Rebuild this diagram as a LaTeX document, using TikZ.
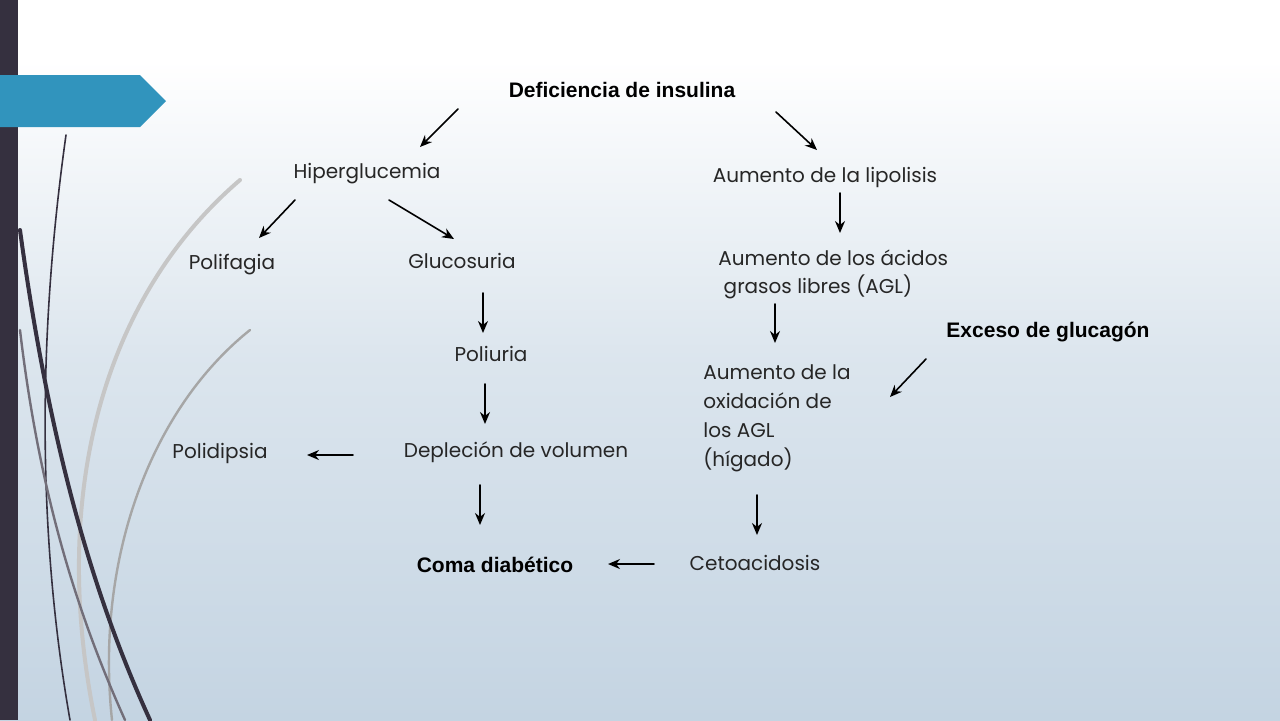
\documentclass[tikz,border=0pt]{standalone}
\usepackage{fontspec}
\setmainfont{Poppins}
\newfontfamily\boldfont{Liberation Sans}
\usetikzlibrary{arrows.meta}
\definecolor{barcol}{RGB}{53,48,63}
\definecolor{tabcol}{RGB}{49,148,189}
\definecolor{bottomcol}{RGB}{196,212,226}
\begin{document}
\begin{tikzpicture}[x=0.5pt,y=-0.5pt,line cap=round,line join=round,
  txt/.style={font=\fontsize{10}{14}\selectfont,text=black!85,inner sep=0pt},
  btxt/.style={font=\boldfont\bfseries\fontsize{10.5}{14}\selectfont,inner sep=0pt},
  arr/.style={-{Stealth[length=6pt,width=5pt]},line width=0.8pt}]
\useasboundingbox (0,0) rectangle (1280,720);
% background
\shade[top color=white,bottom color=bottomcol,middle color=white!40!bottomcol] (0,0) rectangle (1280,720);
\fill[white] (0,0) rectangle (1280,60);
\shade[top color=white,bottom color=white!40!bottomcol] (0,60) rectangle (1280,360);
\shade[top color=white!40!bottomcol,bottom color=bottomcol] (0,360) rectangle (1280,720);
\fill[barcol] (0,0) rectangle (18,720);
\fill[tabcol] (0,75) -- (140,75) -- (166,101) -- (140,127) -- (0,127) -- cycle;
% curves
\draw[gray!45,line width=2pt] (240,180) .. controls (100,300) and (50,500) .. (95,720);
\draw[gray!70,line width=1.2pt] (250,330) .. controls (150,410) and (95,560) .. (112,720);
\draw[barcol,line width=0.8pt] (66,135) .. controls (40,320) and (35,520) .. (70,720);
\draw[barcol,line width=2pt] (20,230) .. controls (50,450) and (95,600) .. (150,720);
\draw[barcol!70,line width=1.2pt] (20,330) .. controls (40,500) and (80,620) .. (125,720);
% texts
\node[btxt] (def) at (622,90) {Deficiencia de insulina};
\node[txt] (hip) at (367,174) {Hiperglucemia};
\node[txt] (lip) at (825,177) {Aumento de la lipolisis};
\node[txt] (pfa) at (232,265) {Polifagia};
\node[txt] (glu) at (462,261) {Glucosuria};
\node[txt,anchor=north west,align=left] (agl) at (718,249) {Aumento de los ácidos\\ \ grasos libres (AGL)};
\node[btxt] (exc) at (1048,332) {Exceso de glucagón};
\node[txt] (pur) at (491,354) {Poliuria};
\node[txt,anchor=north west,align=left,font=\fontsize{10}{14.5}\selectfont] (oxi) at (703,364) {Aumento de la\\oxidación de\\los AGL\\(hígado)};
\node[txt] (pdi) at (220,453) {Polidipsia};
\node[txt] (dep) at (516,452) {Depleción de volumen};
\node[btxt] (com) at (495,565) {Coma diabético};
\node[txt] (cet) at (755,563) {Cetoacidosis};
% arrows
\draw[arr] (458,109) -- (420,147);
\draw[arr] (776,112) -- (817,150);
\draw[arr] (295,200) -- (259,238);
\draw[arr] (389,200) -- (454,239);
\draw[arr] (840,193) -- (840,233);
\draw[arr] (483,293) -- (483,333);
\draw[arr] (775,304) -- (775,343);
\draw[arr] (926,359) -- (890,397);
\draw[arr] (485,384) -- (485,424);
\draw[arr] (353,455) -- (307,455);
\draw[arr] (480,485) -- (480,525);
\draw[arr] (757,495) -- (757,535);
\draw[arr] (654,564) -- (608,564);
\end{tikzpicture}
\end{document}
